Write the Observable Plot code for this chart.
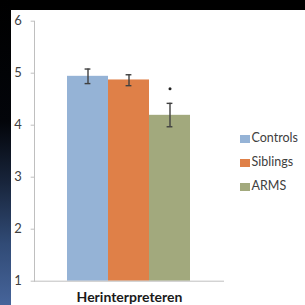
<!DOCTYPE html>
<html>
<head>
<meta charset="utf-8">
<script src="https://cdn.jsdelivr.net/npm/d3@7"></script>
<script src="https://cdn.jsdelivr.net/npm/@observablehq/plot@0.6"></script>
<style>
  html, body { margin: 0; padding: 0; width: 305px; height: 305px; overflow: hidden; background: #000; }
  #strip { position: absolute; left: 0; top: 0; width: 11px; height: 305px;
    background: linear-gradient(to bottom, #000 0%, #03050a 40%, #18253c 60%, #314b76 80%, #46649a 100%); }
  #panel { position: absolute; left: 11px; top: 10px; width: 294px; height: 295px; background: #fff; overflow: hidden; }
  #legend { position: absolute; left: 229px; top: 116px; font-family: Lato, sans-serif; font-size: 12.5px; color: #404040; }
  .row { position: relative; height: 24px; line-height: 24px; white-space: nowrap; }
  .sw { display: inline-block; width: 10px; height: 8px; margin-right: 1.5px; vertical-align: -0.5px; }
</style>
</head>
<body>
<div id="strip"></div>
<div id="panel"><div id="chart"></div><div id="legend"></div></div>
<script>
const category = "Herinterpreteren";
const series = ["Controls", "Siblings", "ARMS"];
const means = [4.94, 4.87, 4.19];
const errLow = [4.80, 4.76, 3.97];
const errHigh = [5.08, 4.97, 4.42];
const sigMarks = [null, null, 4.70];
const colors = ["#95b3d6", "#df8048", "#a2a97d"];
const yTicks = [1, 2, 3, 4, 5, 6];
const yMin = 1, yMax = 6;

const data = series.map((s, i) => ({series: s, value: means[i], lo: errLow[i], hi: errHigh[i], sig: sigMarks[i]}));

const chart = Plot.plot({
  width: 294,
  height: 305,
  marginTop: 10.7,
  marginBottom: 34.3,
  marginLeft: 23,
  marginRight: 81,
  style: {background: "transparent", fontFamily: "Lato, sans-serif", overflow: "visible"},
  x: {domain: series, range: [55.3, 179.3], padding: 0, axis: null},
  y: {domain: [yMin, yMax]},
  color: {domain: series, range: colors},
  marks: [
    Plot.barY(data, {x: "series", y1: () => yMin, y2: "value", fill: "series"}),
    Plot.ruleX(data, {x: "series", y1: "lo", y2: "hi", stroke: "#404040", strokeWidth: 1.4}),
    Plot.tickY(data, {x: "series", y: "hi", stroke: "#404040", strokeWidth: 1.4, insetLeft: 17.6, insetRight: 17.6}),
    Plot.tickY(data, {x: "series", y: "lo", stroke: "#404040", strokeWidth: 1.4, insetLeft: 17.6, insetRight: 17.6}),
    Plot.dot(data.filter(d => d.sig != null), {x: "series", y: "sig", r: 1.5, fill: "#222", stroke: null}),
    Plot.frame({anchor: "left", stroke: "#bfbfbf"}),
    Plot.ruleY([yMin], {stroke: "#bfbfbf"}),
    Plot.axisY({ticks: yTicks, tickSize: 3.3, tickPadding: 9.5, stroke: "#bfbfbf", fill: "#404040", fontSize: 13, tickFormat: d3.format("d")}),
    Plot.text([category], {frameAnchor: "bottom", text: d => d, dy: 11, lineAnchor: "top", fontWeight: "bold", fontSize: 14, fill: "#1a1a1a"})
  ]
});
document.getElementById("chart").appendChild(chart);

const legend = document.getElementById("legend");
series.forEach((s, i) => {
  const row = document.createElement("div");
  row.className = "row";
  const sw = document.createElement("span");
  sw.className = "sw";
  sw.style.background = colors[i];
  row.appendChild(sw);
  row.appendChild(document.createTextNode(s));
  legend.appendChild(row);
});
</script>
</body>
</html>
